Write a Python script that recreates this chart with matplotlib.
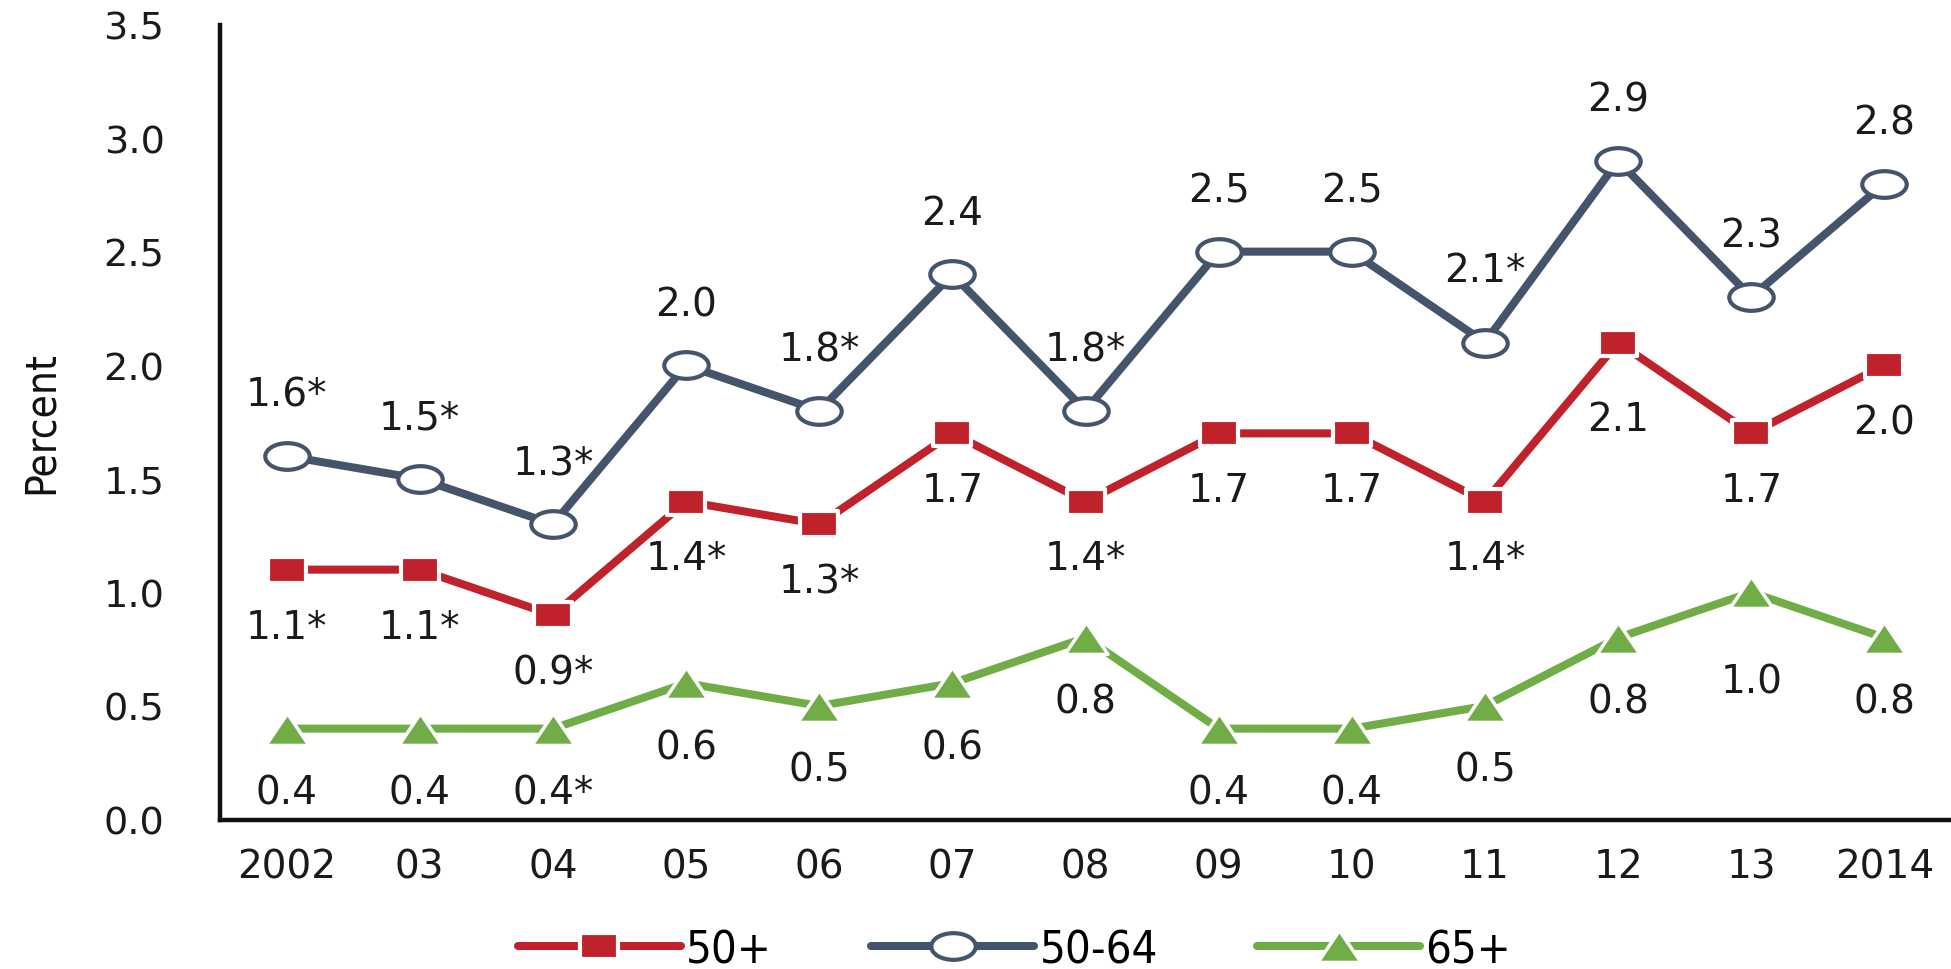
import matplotlib
matplotlib.use("Agg")
import matplotlib.pyplot as plt
from matplotlib import font_manager
from matplotlib.path import Path
from matplotlib.transforms import Affine2D

# ---- data -------------------------------------------------------------
years = ["2002", "03", "04", "05", "06", "07", "08", "09", "10", "11", "12", "13", "2014"]
age_50_plus = [1.1, 1.1, 0.9, 1.4, 1.3, 1.7, 1.4, 1.7, 1.7, 1.4, 2.1, 1.7, 2.0]
age_50_64 = [1.6, 1.5, 1.3, 2.0, 1.8, 2.4, 1.8, 2.5, 2.5, 2.1, 2.9, 2.3, 2.8]
age_65_plus = [0.4, 0.4, 0.4, 0.6, 0.5, 0.6, 0.8, 0.4, 0.4, 0.5, 0.8, 1.0, 0.8]
# statistically significant difference from 2014 (marked with *)
sig_50_plus = [1, 1, 1, 1, 1, 0, 1, 0, 0, 1, 0, 0, 0]
sig_50_64 = [1, 1, 1, 0, 1, 0, 1, 0, 0, 1, 0, 0, 0]
sig_65_plus = [0, 0, 1, 0, 0, 0, 0, 0, 0, 0, 0, 0, 0]
y_ticks = [0.0, 0.5, 1.0, 1.5, 2.0, 2.5, 3.0, 3.5]
series_names = ["50+", "50-64", "65+"]

RED = "#C0222B"
NAVY = "#44546A"
GREEN = "#70AD47"

NUM_FONT = ["DejaVu Sans"]

# a narrow face for the axis title and legend, if one is installed
_installed = {(f.name, f.stretch) for f in font_manager.fontManager.ttflist}
if any(n == "Liberation Sans Narrow" for n, _ in _installed):
    NARROW = dict(family=["Liberation Sans Narrow", "DejaVu Sans"], stretch="normal")
    narrow_scale = 1.15
elif ("DejaVu Sans", "condensed") in _installed or ("DejaVu Sans", 75) in _installed:
    NARROW = dict(family=["DejaVu Sans"], stretch="condensed")
    narrow_scale = 1.05
else:
    NARROW = dict(family=["DejaVu Sans"], stretch="normal")
    narrow_scale = 1.0

# ---- marker shapes (slightly wide, like the printed chart) ------------
wide_square = Path([(-1, -0.68), (1, -0.68), (1, 0.68), (-1, 0.68), (-1, -0.68)],
                   [Path.MOVETO, Path.LINETO, Path.LINETO, Path.LINETO, Path.CLOSEPOLY])
wide_circle = Path.unit_circle().transformed(Affine2D().scale(1, 0.6))
wide_triangle = Path([(-1, -0.74), (1, -0.74), (0, 0.74), (-1, -0.74)],
                     [Path.MOVETO, Path.LINETO, Path.LINETO, Path.CLOSEPOLY])

fig = plt.figure(figsize=(19.51, 9.70), dpi=100)
ax = fig.add_axes([220 / 1951, 149.5 / 970, 1731 / 1951, 795 / 970])

x = list(range(len(years)))

l1, = ax.plot(x, age_50_plus, color=RED, lw=5.8, marker=wide_square, ms=27,
              mfc=RED, mec="white", mew=3, zorder=3, solid_capstyle="round")
l2, = ax.plot(x, age_50_64, color=NAVY, lw=5.8, marker=wide_circle, ms=32,
              mfc="white", mec=NAVY, mew=3, zorder=4, solid_capstyle="round")
l3, = ax.plot(x, age_65_plus, color=GREEN, lw=5.8, marker=wide_triangle, ms=31,
              mfc=GREEN, mec="white", mew=2.5, zorder=3, solid_capstyle="round")


def fmt(v, s):
    return f"{v:.1f}" + ("*" if s else "")


label_size = 28
extra_50_plus = {10: -14}
extra_50_64 = {9: 8}
extra_65_plus = {11: -18}
for i in x:
    ax.annotate(fmt(age_50_64[i], sig_50_64[i]), (i, age_50_64[i]),
                xytext=(0, 44 + extra_50_64.get(i, 0)), textcoords="offset points",
                ha="center", va="center", fontsize=label_size, family=NUM_FONT,
                color="#1a1a1a", zorder=6)
    ax.annotate(fmt(age_50_plus[i], sig_50_plus[i]), (i, age_50_plus[i]),
                xytext=(0, -41 + extra_50_plus.get(i, 0)), textcoords="offset points",
                ha="center", va="center", fontsize=label_size, family=NUM_FONT,
                color="#1a1a1a", zorder=6)
    ax.annotate(fmt(age_65_plus[i], sig_65_plus[i]), (i, age_65_plus[i]),
                xytext=(0, -46 + extra_65_plus.get(i, 0)), textcoords="offset points",
                ha="center", va="center", fontsize=label_size, family=NUM_FONT,
                color="#1a1a1a", zorder=6)

# ---- axes -------------------------------------------------------------
ax.set_xlim(-0.5, 12.5)
ax.set_ylim(0, 3.5)
ax.set_xticks(x)
ax.set_xticklabels(years)
ax.set_yticks(y_ticks)
ax.set_yticklabels([f"{t:.1f}" for t in y_ticks])
ax.tick_params(axis="both", length=0, labelsize=28, colors="#1a1a1a")
ax.tick_params(axis="y", pad=40, labelsize=27.5)
ax.tick_params(axis="x", pad=20)
for lab in ax.get_xticklabels() + ax.get_yticklabels():
    lab.set_family(NUM_FONT)

for side in ("top", "right"):
    ax.spines[side].set_visible(False)
for side in ("left", "bottom"):
    ax.spines[side].set_linewidth(3.2)
    ax.spines[side].set_color("#111111")

ax.set_ylabel("Percent", fontsize=29 * narrow_scale, color="#111111", **NARROW)
ax.yaxis.label.set_verticalalignment("center")
ax.yaxis.set_label_coords(-179 / 1731, 0.5)

fig.legend([l1, l2, l3], series_names, loc="center", ncol=3, frameon=False,
           bbox_to_anchor=(0.52, 0.02), numpoints=1, handlelength=3.6,
           handletextpad=0.12, columnspacing=2.2,
           prop=dict(size=31 * narrow_scale, **NARROW))

fig.savefig("out.png", dpi=100, facecolor="white")
